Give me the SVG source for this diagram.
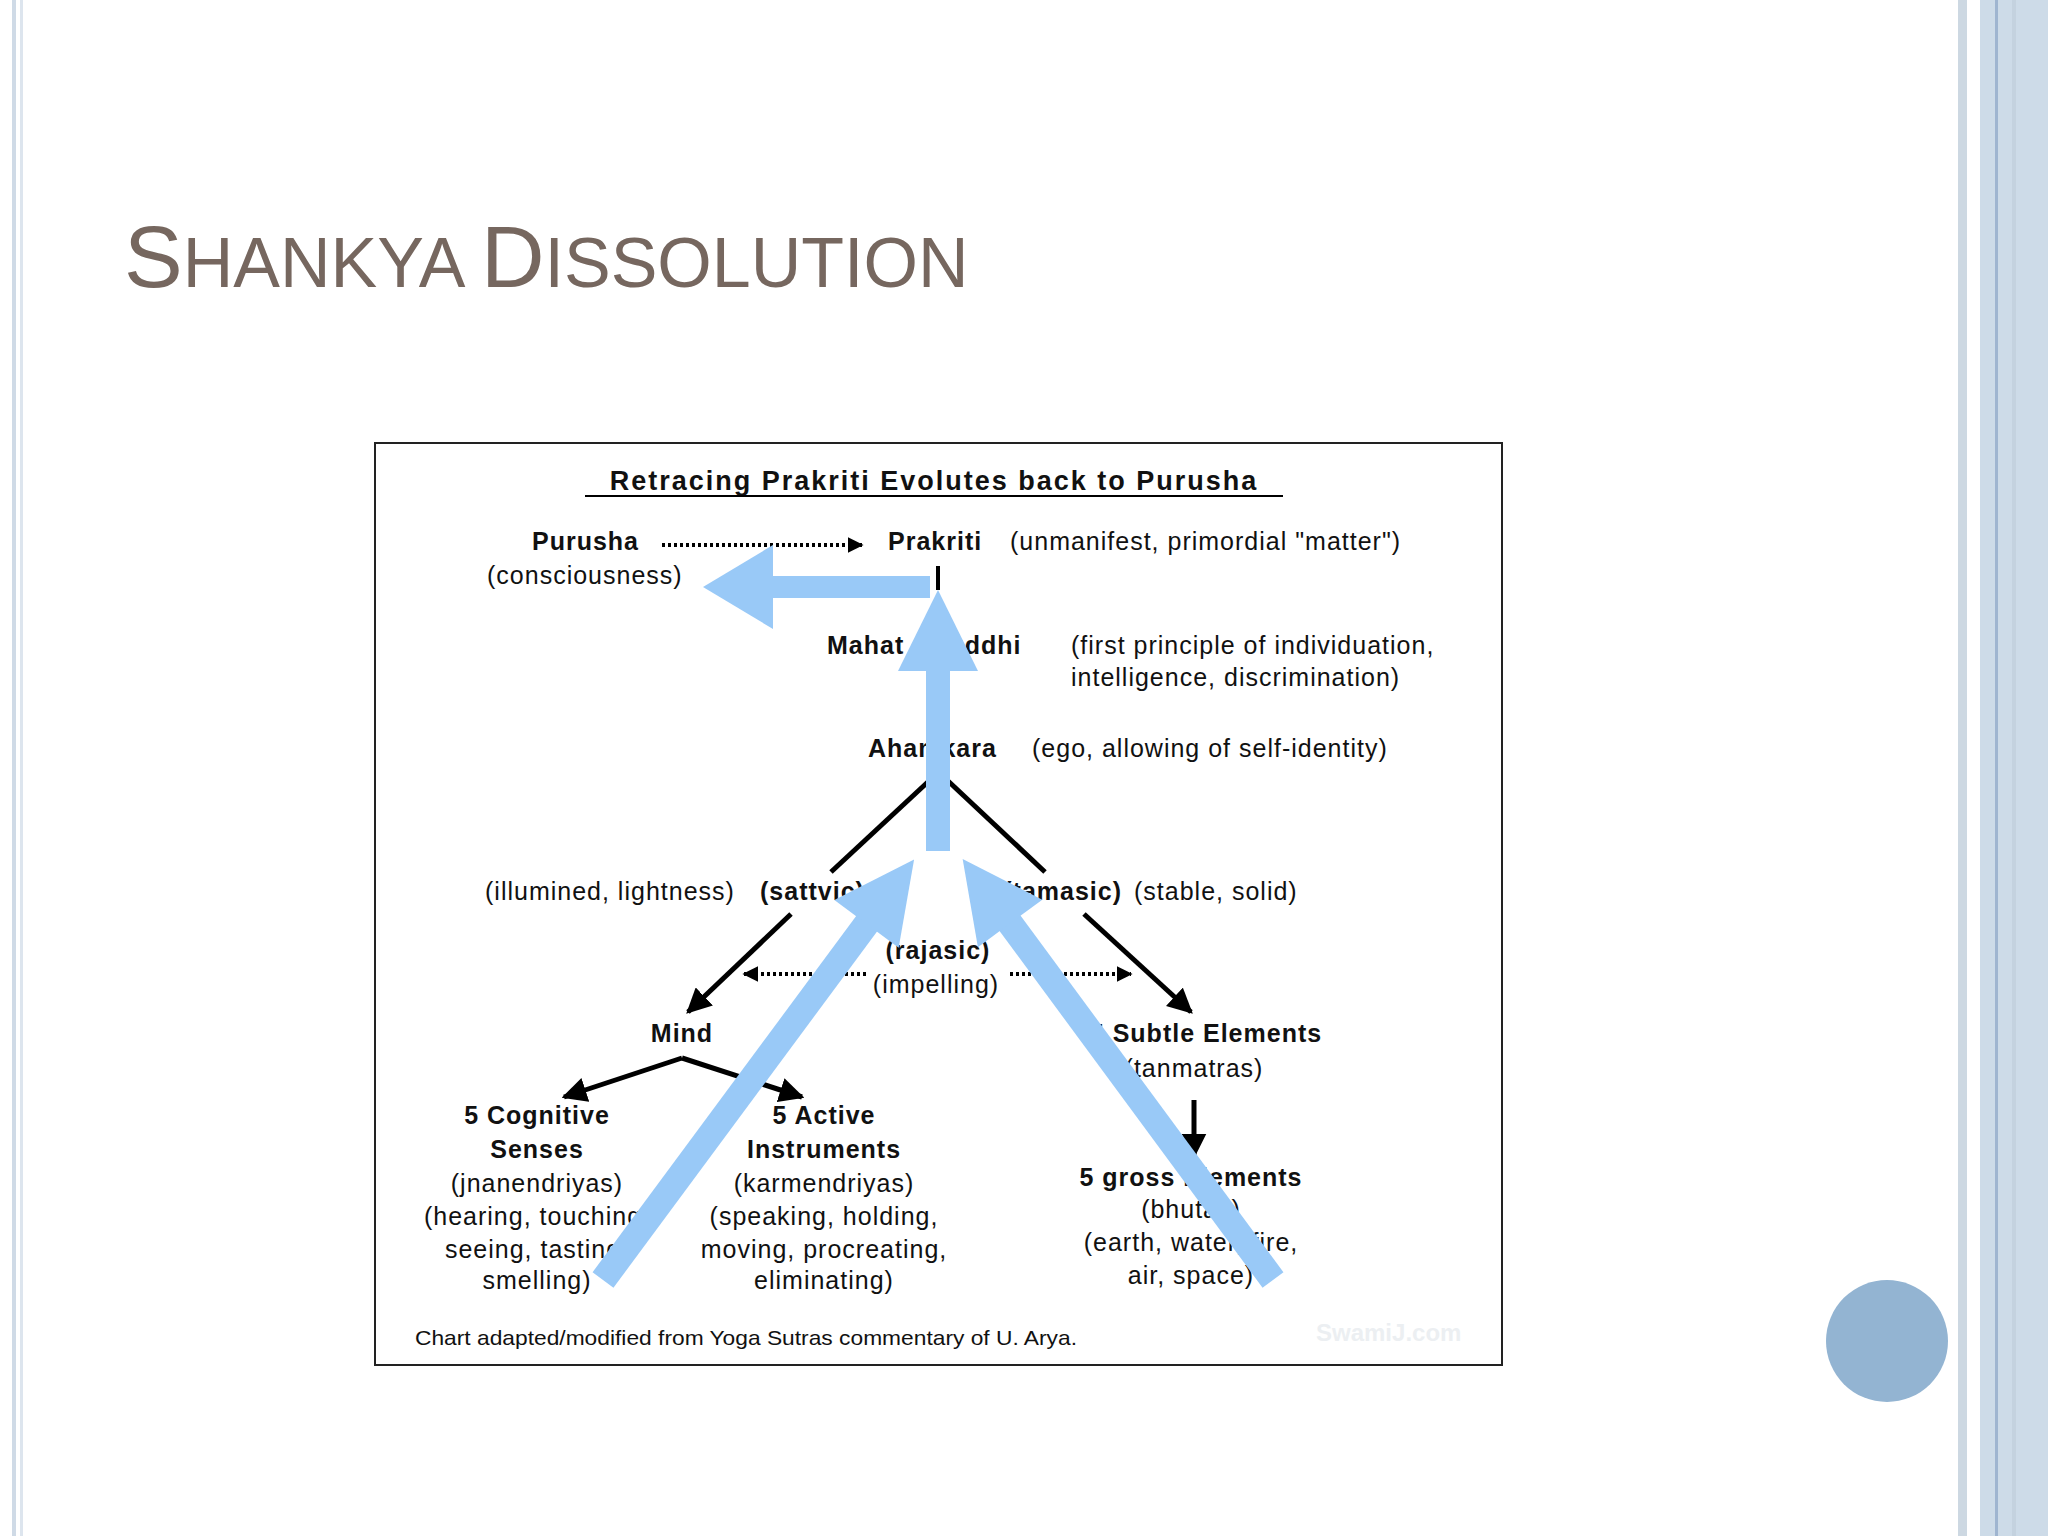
<svg xmlns="http://www.w3.org/2000/svg" width="2048" height="1536" viewBox="0 0 2048 1536">
<defs>
<style>
.t{font-family:"Liberation Sans",Arial,sans-serif;font-size:25px;fill:#111;letter-spacing:1px}
.b{font-weight:bold}
.c{text-anchor:middle}
.ln{stroke:#000;stroke-width:5;fill:none}
.dot{stroke:#000;stroke-width:4;stroke-dasharray:3 3;fill:none}
.blue{fill:#99c9f7}
</style>
<marker id="ah" viewBox="0 0 10 10" refX="9" refY="5" markerWidth="5" markerHeight="5" orient="auto" markerUnits="strokeWidth"><path d="M0,0L10,5L0,10z" fill="#000"/></marker>
<marker id="ahs" viewBox="0 0 10 10" refX="9" refY="5" markerWidth="4" markerHeight="4" orient="auto" markerUnits="strokeWidth"><path d="M0,0L10,5L0,10z" fill="#000"/></marker>
</defs>
<rect width="2048" height="1536" fill="#fff"/>
<rect x="12" y="0" width="4" height="1536" fill="#cfdae6"/>
<rect x="20" y="0" width="3" height="1536" fill="#dde5ee"/>
<rect x="1958" y="0" width="9" height="1536" fill="#cdd8e2"/>
<rect x="1980" y="0" width="68" height="1536" fill="#cddbe8"/>
<rect x="1995" y="0" width="3" height="1536" fill="#9fb5d0"/>
<rect x="2012" y="0" width="4" height="1536" fill="#c4d2df"/>
<circle cx="1887" cy="1341" r="61" fill="#93b4d2"/>
<text x="124" y="287" font-family="Liberation Sans,Arial,sans-serif" fill="#76675f" font-size="88">S<tspan font-size="70">HANKYA </tspan>D<tspan font-size="70">ISSOLUTION</tspan></text>

<rect x="375" y="443" width="1127" height="922" fill="#fff" stroke="#222" stroke-width="2"/>
<g id="title"><text class="t b c" x="934" y="490" font-size="27" style="font-size:27px;letter-spacing:2px">Retracing Prakriti Evolutes back to Purusha</text>
<line x1="585" y1="496" x2="1283" y2="496" stroke="#000" stroke-width="2"/></g>

<g id="connectors">
<line class="dot" x1="662" y1="545" x2="862" y2="545" marker-end="url(#ahs)"/>
<line x1="938" y1="566" x2="938" y2="590" stroke="#000" stroke-width="4"/>
<line class="ln" x1="930" y1="780" x2="831" y2="872"/>
<line class="ln" x1="947" y1="780" x2="1045" y2="872"/>
<line class="ln" x1="791" y1="914" x2="688" y2="1012" marker-end="url(#ah)"/>
<line class="ln" x1="1084" y1="914" x2="1191" y2="1012" marker-end="url(#ah)"/>
<line class="dot" x1="866" y1="974" x2="744" y2="974" marker-end="url(#ahs)"/>
<line class="dot" x1="1010" y1="974" x2="1131" y2="974" marker-end="url(#ahs)"/>
<polyline class="ln" points="682,1058 564,1097" marker-end="url(#ah)"/>
<polyline class="ln" points="682,1058 802,1097" marker-end="url(#ah)"/>
<line class="ln" x1="1194" y1="1100" x2="1194" y2="1156" marker-end="url(#ah)"/>
</g>

<g id="purusha"><text class="t b" x="532" y="550">Purusha</text><text class="t" x="487" y="584">(consciousness)</text></g>
<g id="prakriti"><text class="t b" x="888" y="550">Prakriti</text><text class="t" x="1010" y="550">(unmanifest, primordial "matter")</text></g>
<g id="mahat"><text class="t b" x="827" y="654">Mahat - Buddhi</text><text class="t" x="1071" y="654">(first principle of individuation,</text><text class="t" x="1071" y="686">intelligence, discrimination)</text></g>
<g id="ahamkara"><text class="t b" x="868" y="757">Ahamkara</text><text class="t" x="1032" y="757">(ego, allowing of self-identity)</text></g>
<g id="sattvic"><text class="t" x="485" y="900">(illumined, lightness)</text><text class="t b" x="760" y="900">(sattvic)</text></g>
<g id="tamasic"><text class="t b" x="1122" y="900" text-anchor="end">(tamasic)</text><text class="t" x="1134" y="900">(stable, solid)</text></g>
<g id="rajasic"><text class="t b c" x="938" y="959">(rajasic)</text><text class="t c" x="936" y="993">(impelling)</text></g>
<g id="mind"><text class="t b c" x="682" y="1042">Mind</text></g>
<g id="subtle"><text class="t b c" x="1206" y="1042">5 Subtle Elements</text><text class="t c" x="1194" y="1077">(tanmatras)</text></g>
<g id="cognitive" class="t c">
<text class="t b c" x="537" y="1124">5 Cognitive</text><text class="t b c" x="537" y="1158">Senses</text>
<text class="t c" x="537" y="1192">(jnanendriyas)</text><text class="t c" x="537" y="1225">(hearing, touching,</text><text class="t c" x="537" y="1258">seeing, tasting,</text><text class="t c" x="537" y="1289">smelling)</text></g>
<g id="active">
<text class="t b c" x="824" y="1124">5 Active</text><text class="t b c" x="824" y="1158">Instruments</text>
<text class="t c" x="824" y="1192">(karmendriyas)</text><text class="t c" x="824" y="1225">(speaking, holding,</text><text class="t c" x="824" y="1258">moving, procreating,</text><text class="t c" x="824" y="1289">eliminating)</text></g>
<g id="gross">
<text class="t b c" x="1191" y="1186">5 gross Elements</text><text class="t c" x="1191" y="1218">(bhutas)</text>
<text class="t c" x="1191" y="1251">(earth, water, fire,</text><text class="t c" x="1191" y="1284">air, space)</text></g>
<text x="415" y="1345" font-family="Liberation Sans Narrow,Liberation Sans,sans-serif" font-size="21" fill="#111" textLength="662" lengthAdjust="spacingAndGlyphs">Chart adapted/modified from Yoga Sutras commentary of U. Arya.</text>
<text x="1316" y="1341" font-family="Liberation Sans,sans-serif" font-size="24" font-weight="bold" fill="#eceff2">SwamiJ.com</text>

<g id="blue-arrows" class="blue">
<g transform="translate(930,587) rotate(180)"><rect x="0" y="-11" width="160" height="22"/><polygon points="157,-42 227,0 157,42"/></g>
<g transform="translate(938,851) rotate(-90)"><rect x="0" y="-12" width="183" height="24"/><polygon points="180,-40 261,0 180,40"/></g>
<g transform="translate(603,1280) rotate(-53.5)"><rect x="0" y="-13" width="446" height="26"/><polygon points="443,-40 523,0 443,40"/></g>
<g transform="translate(1273,1280) rotate(-126.4)"><rect x="0" y="-13" width="446" height="26"/><polygon points="443,-40 523,0 443,40"/></g>
</g>
</svg>
